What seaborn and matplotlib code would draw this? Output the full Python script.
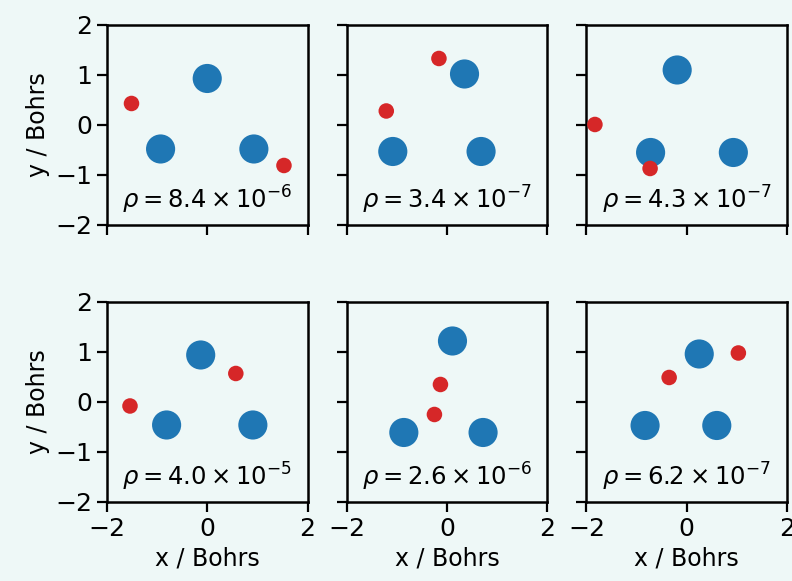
import numpy as np
import pandas as pd
import matplotlib
matplotlib.use("Agg")
import matplotlib.pyplot as plt
import seaborn as sns

# Nuclei (blue, large) positions per panel, in Bohrs
nuclei_x = [
    [0.00, -0.93, 0.93],
    [0.35, -1.08, 0.68],
    [-0.19, -0.72, 0.93],
    [-0.13, -0.81, 0.91],
    [0.11, -0.86, 0.72],
    [0.25, -0.83, 0.60],
]
nuclei_y = [
    [0.93, -0.48, -0.48],
    [1.02, -0.53, -0.53],
    [1.10, -0.55, -0.55],
    [0.94, -0.46, -0.46],
    [1.22, -0.61, -0.61],
    [0.96, -0.47, -0.47],
]
# Electrons (red, small) positions per panel
electron_x = [
    [-1.51, 1.53],
    [-0.16, -1.21],
    [-1.83, -0.73],
    [0.57, -1.54],
    [-0.13, -0.25],
    [1.03, -0.35],
]
electron_y = [
    [0.43, -0.81],
    [1.33, 0.28],
    [0.01, -0.87],
    [0.57, -0.08],
    [0.35, -0.25],
    [0.98, 0.49],
]
rho_mantissa = ["8.4", "3.4", "4.3", "4.0", "2.6", "6.2"]
rho_exponent = ["-6", "-7", "-7", "-5", "-6", "-7"]

ticks = [-2, -1, 0, 1, 2]
xticks = [-2, 0, 2]

BG = "#eef8f7"
sns.set_theme(style="ticks")
plt.rcParams["font.family"] = ["DejaVu Sans"]
plt.rcParams.update({
    "figure.facecolor": BG,
    "axes.facecolor": BG,
    "savefig.facecolor": BG,
    "axes.edgecolor": "black",
    "axes.linewidth": 1.8,
    "xtick.major.size": 7,
    "ytick.major.size": 7,
    "xtick.major.width": 1.6,
    "ytick.major.width": 1.6,
    "xtick.labelsize": 18,
    "ytick.labelsize": 18,
    "axes.labelsize": 17,
    "xtick.color": "black",
    "ytick.color": "black",
    "axes.labelcolor": "black",
    "text.color": "black",
})

fig, axes = plt.subplots(2, 3, figsize=(7.92, 5.81), dpi=100, sharex=True, sharey=True)
fig.subplots_adjust(left=0.135, right=0.9937, top=0.957, bottom=0.136, wspace=0.195, hspace=0.385)

for i, ax in enumerate(axes.flat):
    nd = pd.DataFrame({"x": nuclei_x[i], "y": nuclei_y[i]})
    ed = pd.DataFrame({"x": electron_x[i], "y": electron_y[i]})
    sns.scatterplot(data=nd, x="x", y="y", ax=ax, s=440, color="#1f77b4", edgecolor="none", linewidth=0, zorder=2)
    sns.scatterplot(data=ed, x="x", y="y", ax=ax, s=125, color="#d62728", edgecolor="none", linewidth=0, zorder=3)
    ax.set_xlim(-2, 2)
    ax.set_ylim(-2, 2)
    ax.set_xticks(xticks)
    ax.set_yticks(ticks)
    ax.text(0, -1.5, r"$\rho = %s \times 10^{%s}$" % (rho_mantissa[i], rho_exponent[i]),
            ha="center", va="center", fontsize=17.5)
    for sp in ax.spines.values():
        sp.set_visible(True)
    ax.set_xlabel("x / Bohrs" if i >= 3 else "")
    ax.set_ylabel("y / Bohrs" if i % 3 == 0 else "")

fig.savefig("out.png", dpi=100)
